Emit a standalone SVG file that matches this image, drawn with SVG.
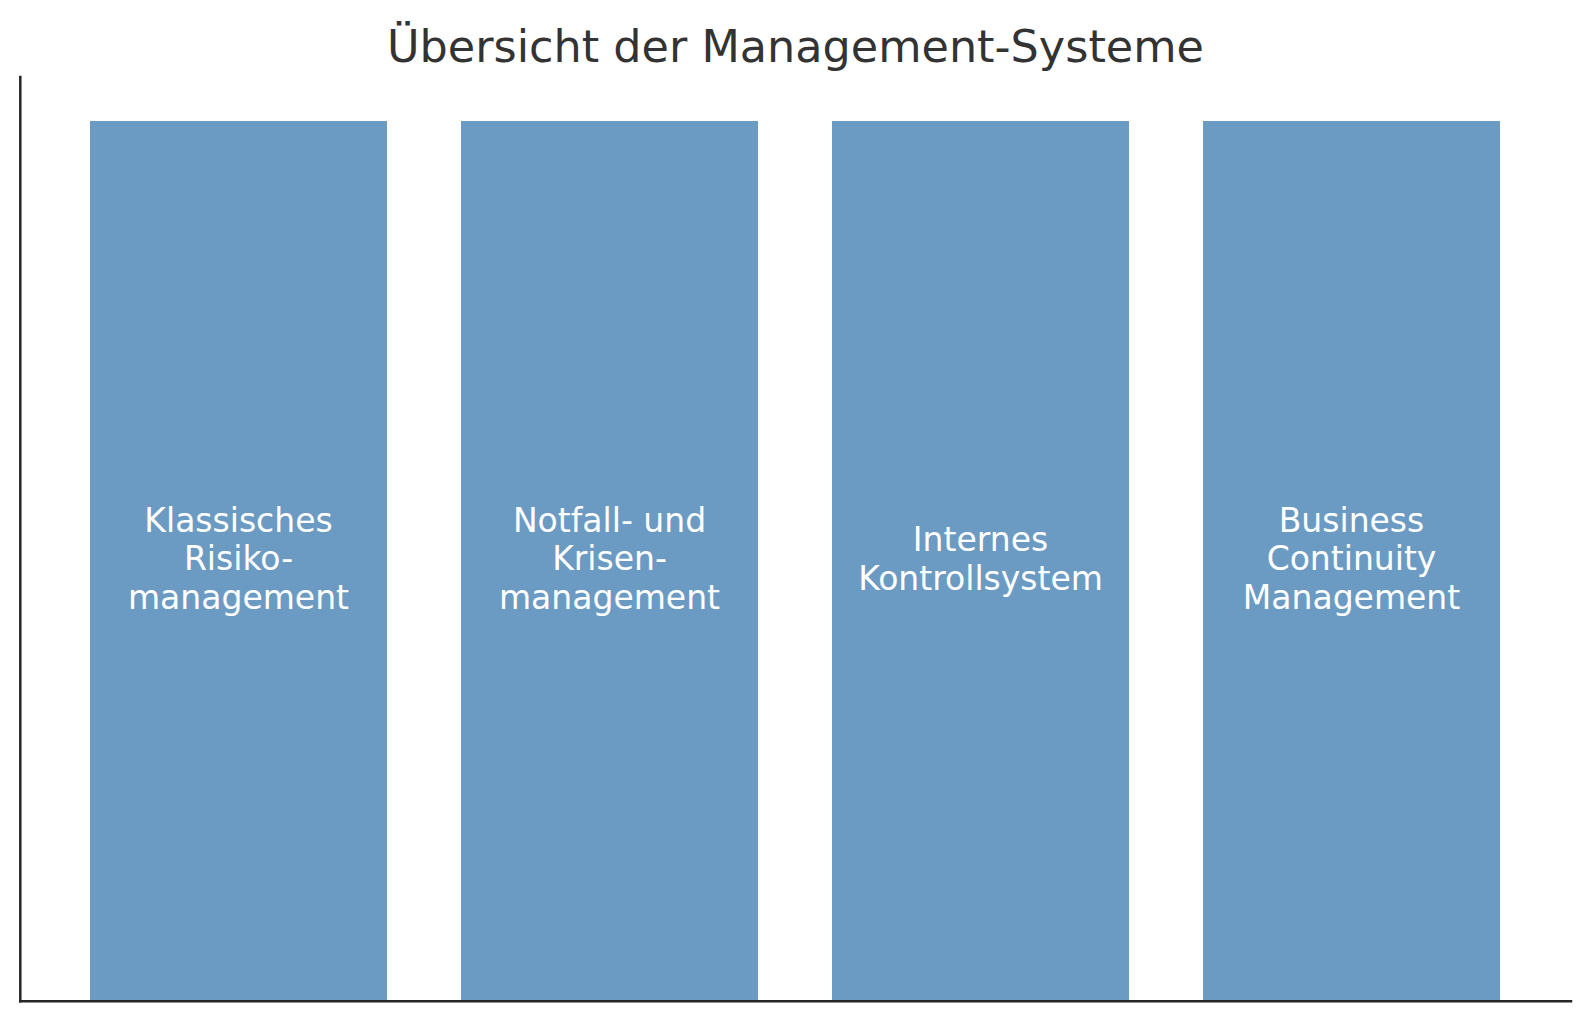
<svg xmlns="http://www.w3.org/2000/svg" width="1589" height="1021" viewBox="0 0 1589 1021">
<style>
.bar{fill:#6b9bc3}
.lbl{font-family:"DejaVu Sans",sans-serif;font-size:33px;fill:#ffffff;text-anchor:middle}
.title{font-family:"DejaVu Sans",sans-serif;font-size:44.5px;fill:#333333;text-anchor:middle}
.spine{stroke:#262626;stroke-width:2.5;fill:none;stroke-linecap:square}
</style>
<rect width="1589" height="1021" fill="#ffffff"/>
<text class="title" x="795.5" y="62">Übersicht der Management-Systeme</text>
<g id="node1">
<rect class="bar" x="90" y="121" width="297" height="880"/>
<text class="lbl" x="238.5" y="532">Klassisches</text>
<text class="lbl" x="238.5" y="570.4">Risiko-</text>
<text class="lbl" x="238.5" y="608.8">management</text>
</g>
<g id="node2">
<rect class="bar" x="461" y="121" width="297" height="880"/>
<text class="lbl" x="609.5" y="532">Notfall- und</text>
<text class="lbl" x="609.5" y="570.4">Krisen-</text>
<text class="lbl" x="609.5" y="608.8">management</text>
</g>
<g id="node3">
<rect class="bar" x="832" y="121" width="297" height="880"/>
<text class="lbl" x="980.5" y="551.2">Internes</text>
<text class="lbl" x="980.5" y="589.6">Kontrollsystem</text>
</g>
<g id="node4">
<rect class="bar" x="1203" y="121" width="297" height="880"/>
<text class="lbl" x="1351.5" y="532">Business</text>
<text class="lbl" x="1351.5" y="570.4">Continuity</text>
<text class="lbl" x="1351.5" y="608.8">Management</text>
</g>
<g id="connectors">
<path class="spine" d="M20.3 77 V1001.3"/>
<path class="spine" d="M20.3 1001.3 H1571"/>
</g>
</svg>
